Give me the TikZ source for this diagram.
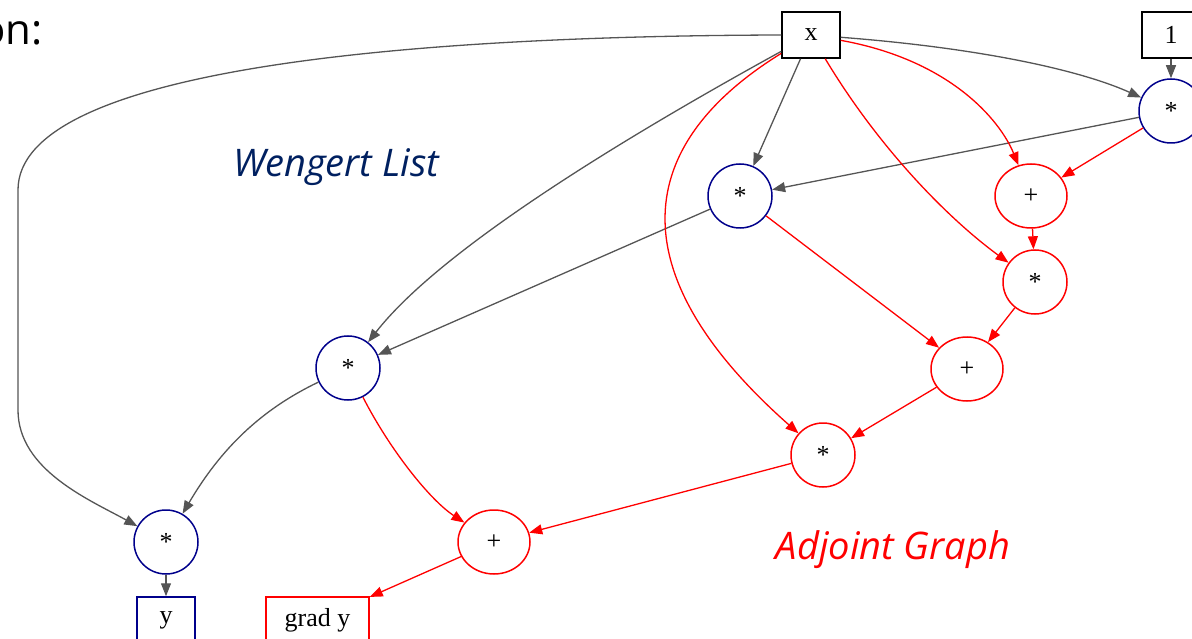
\documentclass[tikz,border=0pt]{standalone}
\usepackage{fontspec}
\setmainfont{Liberation Serif}
\newfontfamily\notefont{Open Sans}
\usetikzlibrary{arrows.meta,shapes.geometric}

\definecolor{wlblue}{RGB}{0,0,139}
\definecolor{wltext}{RGB}{0,32,96}
\definecolor{edgegray}{RGB}{85,85,85}

\begin{document}
\begin{tikzpicture}[x=1pt,y=-1pt,
    op/.style={circle,draw=wlblue,line width=1.5pt,minimum size=64pt,inner sep=0pt,font=\fontsize{26}{26}\selectfont},
    adjmul/.style={op,draw=red},
    adjadd/.style={ellipse,draw=red,line width=1.5pt,minimum width=72pt,minimum height=64pt,inner sep=0pt,font=\fontsize{26}{26}\selectfont},
    var/.style={rectangle,draw,line width=1.5pt,minimum width=58pt,minimum height=46pt,inner sep=0pt,font=\fontsize{26}{26}\selectfont},
    fwd/.style={draw=edgegray,line width=1.3pt,-{Triangle[length=13pt,width=10pt]}},
    bwd/.style={fwd,draw=red},
    note/.style={font=\notefont\itshape\fontsize{38}{38}\selectfont}]
    \useasboundingbox (0,0) rectangle (1192,639);
    \clip (0,0) rectangle (1192,639);

    \node[anchor=base east,font=\notefont\fontsize{42}{42}\selectfont] (head) at (46,45) {on:};
    \node[note,text=wltext] (wl) at (336,167) {Wengert List};
    \node[note,text=red] (ag) at (893,550) {Adjoint Graph};

    \node[var] (x) at (811,35) {x};
    \node[var] (one) at (1171,35) {1};
    \node[op] (m1) at (1171,111) {*};
    \node[op] (m2) at (740,196) {*};
    \node[op] (m3) at (348,368) {*};
    \node[op] (m4) at (166,542) {*};
    \node[var,draw=wlblue] (y) at (166,620) {y};

    \node[adjadd] (a1) at (1031,196) {+};
    \node[adjmul] (a2) at (1035,282) {*};
    \node[adjadd] (a3) at (967,369) {+};
    \node[adjmul] (a4) at (823,455) {*};
    \node[adjadd] (a5) at (494,542) {+};
    \node[var,draw=red,minimum width=103pt] (gy) at (317.5,620) {grad y};

    \draw[fwd] (x.west) .. controls (400,36) and (18,70) .. (18,190) -- (18,410)
        .. controls (18,470) and (90,500) .. (m4);
    \draw[fwd] (x) .. controls (980,48) and (1080,70) .. (m1);
    \draw[fwd] (x) -- (m2);
    \draw[fwd] (x) .. controls (620,140) and (440,250) .. (m3);
    \draw[fwd] (one) -- (m1);
    \draw[fwd] (m1) -- (m2);
    \draw[fwd] (m2) -- (m3);
    \draw[fwd] (m3) .. controls (260,410) and (220,450) .. (m4);
    \draw[fwd] (m4) -- (y);

    \draw[bwd] (x) .. controls (950,60) and (1000,120) .. (a1);
    \draw[bwd] (m1) -- (a1);
    \draw[bwd] (a1) -- (a2);
    \draw[bwd] (x) .. controls (880,150) and (950,220) .. (a2);
    \draw[bwd] (m2) -- (a3);
    \draw[bwd] (a2) -- (a3);
    \draw[bwd] (x) .. controls (625,150) and (625,280) .. (a4);
    \draw[bwd] (a3) -- (a4);
    \draw[bwd] (m3) .. controls (390,450) and (430,500) .. (a5);
    \draw[bwd] (a4) -- (a5);
    \draw[bwd] (a5) -- (gy);
\end{tikzpicture}
\end{document}
